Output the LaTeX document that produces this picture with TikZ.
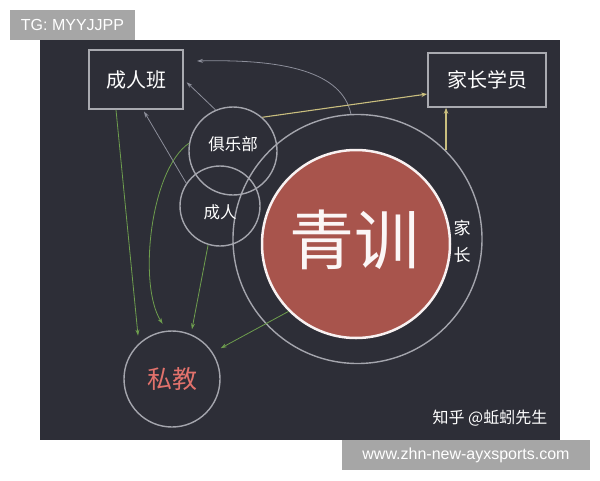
\documentclass[tikz,border=0pt]{standalone}
\usepackage{fontspec}
\setmainfont{Liberation Sans}
\newfontfamily\cjk{Noto Sans CJK SC}
\usetikzlibrary{arrows.meta}
\definecolor{panelc}{HTML}{2D2E37}
\definecolor{boxc}{HTML}{A9AAB0}
\definecolor{ringc}{HTML}{A4A5AD}
\definecolor{grayc}{HTML}{8C8E9A}
\definecolor{greenc}{HTML}{6E9E4E}
\definecolor{yellowc}{HTML}{C9BE7E}
\definecolor{redc}{HTML}{A8544C}
\definecolor{redtext}{HTML}{E2726C}
\definecolor{wmc}{HTML}{A6A6A6}
\begin{document}
\begin{tikzpicture}[x=1pt,y=-1pt,
  box/.style={draw=boxc,line width=1.6pt,inner sep=0pt,text=white,
    font=\cjk\fontsize{20}{24}\selectfont},
  ring/.style={circle,draw=ringc,line width=1.4pt,inner sep=0pt},
  garrow/.style={draw=grayc,line width=0.8pt,-{Stealth[length=6pt,width=4pt]}},
  grarrow/.style={draw=greenc,line width=0.8pt,-{Stealth[length=6pt,width=4pt]}},
  yarrow/.style={draw=yellowc,line width=1.1pt,-{Stealth[length=6pt,width=4.5pt]}},
  wm/.style={fill=wmc,text=white,inner sep=0pt,font=\fontsize{16}{19}\selectfont},
  plain/.style={text=white,inner sep=0pt},
  ringtext/.style={text=white,inner sep=0pt,font=\cjk\fontsize{16.5}{20}\selectfont}
]
\useasboundingbox (0,0) rectangle (600,480);
\fill[white] (0,0) rectangle (600,480);
\fill[panelc] (40,40) rectangle (560,440);

% watermarks
\node[wm,minimum width=125pt,minimum height=30pt] (tg) at (72.5,25) {TG: MYYJJPP};
\node[wm,minimum width=248pt,minimum height=30pt] (www) at (466,455) {www.zhn-new-ayxsports.com};

% boxes
\node[box,minimum width=94pt,minimum height=59pt] (crb) at (136,79.5) {成人班};
\node[box,minimum width=118pt,minimum height=54pt] (jzxy) at (487,80) {家长学员};

% circles
\node[ring,minimum size=249pt] (jz) at (357.5,239) {};
\node[circle,fill=redc,draw=white!92!redc,line width=2.5pt,minimum size=188pt,inner sep=0pt] (qx) at (356,244) {};
\node[text=white!95!redc,inner sep=0pt,font=\cjk\fontsize{65}{70}\selectfont] (qxt) at (354,240) {青训};
\node[ring,minimum size=88pt] (jlb) at (233,151) {};
\node[ring,minimum size=80pt] (cr) at (220,206) {};
\node[ringtext] (jlbt) at (233,144) {俱乐部};
\node[ringtext] (crt) at (220,212) {成人};
\node[ring,minimum size=96pt,text=redtext,font=\cjk\fontsize{25}{30}\selectfont] (sj) at (172,379) {私教};

% side labels
\node[plain,font=\cjk\fontsize{17}{20}\selectfont] (jia) at (462,228) {家};
\node[plain,font=\cjk\fontsize{17}{20}\selectfont] (zhang) at (462,255) {长};
\node[plain,font=\cjk\fontsize{16}{19}\selectfont] (zh) at (490,418) {知乎 @蚯蚓先生};

% gray arrows
\coordinate (t1) at (197,61);
\draw[garrow] (jz.93) .. controls (342,72) and (285,59) .. (t1);
\draw[garrow,shorten >=4pt] (jlb.113) -- (crb.east);
\draw[garrow,shorten >=2pt] (cr.146) -- ([xshift=7pt]crb.south);

% yellow arrows
\draw[yarrow] (jlb.49) -- ([yshift=-14pt]jzxy.west);
\draw[yarrow] (jz.45) -- (jz.45 |- jzxy.south);

% green arrows
\draw[grarrow] ([xshift=-20pt]crb.south) -- ([shift={(-4pt,5pt)}]sj.128);
\draw[grarrow,shorten >=8pt] (jlb.170) .. controls (150,170) and (138,285) .. (sj.96);
\draw[grarrow,shorten >=5pt] (cr.253) -- (sj.67);
\draw[grarrow,shorten >=9pt] (qx.225) -- (sj.33);
\end{tikzpicture}
\end{document}
